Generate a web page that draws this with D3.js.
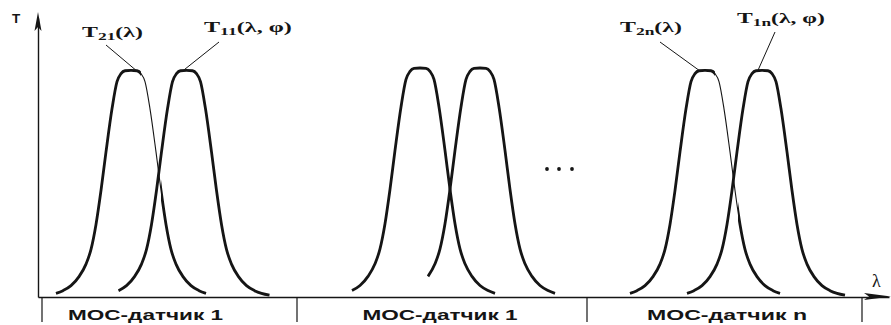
<!DOCTYPE html>
<html>
<head>
<meta charset="utf-8">
<script src="https://cdn.jsdelivr.net/npm/d3@7"></script>
<style>
  html, body { margin: 0; padding: 0; background: #fff; }
  svg { display: block; }
</style>
</head>
<body>
<svg id="chart" width="891" height="325"></svg>
<script>
// peak profile: offset from the peak centre (lambda units) and relative T
const profileOffsets = [-83, -75, -68, -60, -52, -45, -40, -35, -30, -25, -19, -14, -10, -6, 0, 6, 10, 14, 19, 25, 30, 35, 40, 45, 52, 60, 68, 75, 83];
const profileValues  = [0.008, 0.016, 0.028, 0.05, 0.09, 0.145, 0.21, 0.32, 0.47, 0.64, 0.83, 0.95, 0.985, 0.998, 1.0, 0.998, 0.985, 0.95, 0.83, 0.64, 0.47, 0.32, 0.21, 0.145, 0.09, 0.05, 0.028, 0.016, 0.008];

// six transmission curves: T21, T11 | T2, T1 | T2n, T1n
const peakCentres = [93, 148.5, 382, 442, 667, 724];
const peakHeights = [0.99, 0.99, 1.0, 1.0, 0.99, 0.99];
const curveFrom   = [-78, -74, -73, -58, -77, -75];
const curveTo     = [76, 83, 80, 77, 78, 83];
// part of a curve that is drawn with a thin line (start, end), or null
const thinFrom    = [103, null, null, null, 677, null];
const thinTo      = [123, null, null, null, 700, null];

const peakLabels  = [['T', '21', '(λ)'], ['T', '11', '(λ, φ)'], null, null, ['T', '2n', '(λ)'], ['T', '1n', '(λ, φ)']];

const sensorNames   = ['МОС-датчик 1', 'МОС-датчик 1', 'МОС-датчик n'];
const sensorCentres = [107.5, 402, 689];
const sensorBounds  = [4, 259, 549, 824];
const lambdaDomain  = [0, 851];

const svg = d3.select('#chart');
const ink = '#151515';

const x = d3.scaleLinear().domain(lambdaDomain).range([38, 889]);
const y = d3.scaleLinear().domain([0, 1]).range([297, 68]);

// axes: only the domain lines, no ticks
svg.append('g')
    .attr('transform', `translate(0,${y(0)})`)
    .call(d3.axisBottom(x).tickValues([]).tickSizeOuter(0))
    .call(g => g.select('.domain').attr('stroke', ink).attr('stroke-width', 1.4));
svg.append('g')
    .attr('transform', `translate(${x(0)},0)`)
    .call(d3.axisLeft(d3.scaleLinear().domain([0, 1]).range([y(0), 18])).tickValues([]).tickSizeOuter(0))
    .call(g => g.select('.domain').attr('stroke', ink).attr('stroke-width', 1.4));

// arrow heads
svg.append('path')
    .attr('d', `M${x(0)},12 L${x(0) - 3.5},31 L${x(0)},27 L${x(0) + 3.5},31 Z`)
    .attr('fill', ink);
svg.append('path')
    .attr('d', `M891,${y(0) - 0.5} L864,${y(0) - 4} L869,${y(0) - 0.5} L864,${y(0) + 3} Z`)
    .attr('fill', ink);

// sensor table under the axis
svg.append('g')
    .selectAll('line')
    .data(sensorBounds)
    .enter()
    .append('line')
    .attr('x1', d => x(d))
    .attr('x2', d => x(d))
    .attr('y1', y(0))
    .attr('y2', 322)
    .attr('stroke', ink)
    .attr('stroke-width', 1.2);

svg.append('g')
    .selectAll('text')
    .data(sensorNames)
    .enter()
    .append('text')
    .attr('x', (d, i) => x(sensorCentres[i]) - (i === 2 ? 80 : 77.5))
    .attr('y', 320)
    .attr('textLength', (d, i) => i === 2 ? 160 : 155)
    .attr('lengthAdjust', 'spacingAndGlyphs')
    .attr('font-family', 'Liberation Sans, Arial, sans-serif')
    .attr('font-weight', 'bold')
    .attr('font-size', 14)
    .attr('fill', ink)
    .text(d => d);

// curves
const line = d3.line()
    .x(d => x(d[0]))
    .y(d => y(d[1]))
    .curve(d3.curveMonotoneX);

const defs = svg.append('defs');
const curvesG = svg.append('g').attr('fill', 'none').attr('stroke', ink).attr('stroke-linejoin', 'round');

peakCentres.forEach((c, i) => {
    const pts = profileOffsets
        .map((dx, k) => [dx, profileValues[k]])
        .filter(p => p[0] >= curveFrom[i] && p[0] <= curveTo[i])
        .map(p => [c + p[0], p[1] * peakHeights[i]]);

    if (thinFrom[i] !== null) {
        const id = 'thick-' + i;
        const cp = defs.append('clipPath').attr('id', id);
        cp.append('rect').attr('x', 0).attr('y', 0).attr('width', x(thinFrom[i])).attr('height', 325);
        cp.append('rect').attr('x', x(thinTo[i])).attr('y', 0).attr('width', 891 - x(thinTo[i])).attr('height', 325);
        curvesG.append('path').attr('d', line(pts)).attr('stroke-width', 1.1);
        curvesG.append('path').attr('d', line(pts)).attr('stroke-width', 2.8).attr('clip-path', `url(#${id})`);
    } else {
        curvesG.append('path').attr('d', line(pts)).attr('stroke-width', 2.8);
    }
});

// "..." between the second and the last sensor
svg.append('g')
    .selectAll('circle')
    .data([509, 521, 534])
    .enter()
    .append('circle')
    .attr('cx', d => x(d))
    .attr('cy', 169)
    .attr('r', 1.9)
    .attr('fill', ink);

// stretch a text horizontally so it spans [x0, x1]
function fitText(t, x0, x1) {
    const b = t.node().getBBox();
    const k = (x1 - x0) / b.width;
    t.attr('transform', `translate(${x0 - b.x * k},0) scale(${k},1)`);
}

// peak labels with leader lines
const labelBox = {
    0: {x0: 82, x1: 143, base: 37, from: [106, 45], dx: 5},
    1: {x0: 204, x1: 292, base: 32, from: [219, 42], dx: -3},
    4: {x0: 620, x1: 682, base: 32, from: [660, 42], dx: -6},
    5: {x0: 737, x1: 825, base: 23, from: [775, 32], dx: -4}
};
peakLabels.forEach((lab, i) => {
    if (!lab) return;
    const L = labelBox[i];
    const t = svg.append('text')
        .attr('x', 0)
        .attr('y', L.base)
        .attr('font-family', 'Liberation Serif, Times New Roman, serif')
        .attr('font-weight', 'bold')
        .attr('font-size', 15)
        .attr('fill', ink);
    t.append('tspan').text(lab[0]);
    t.append('tspan').attr('font-size', 11).attr('dy', 3).text(lab[1]);
    t.append('tspan').attr('dy', -3).text(lab[2]);
    fitText(t, L.x0, L.x1);

    svg.append('line')
        .attr('x1', L.from[0])
        .attr('y1', L.from[1])
        .attr('x2', x(peakCentres[i] + L.dx))
        .attr('y2', y(peakHeights[i]))
        .attr('stroke', ink)
        .attr('stroke-width', 1);
});

// axis names
const tName = svg.append('text')
    .attr('x', 0).attr('y', 23)
    .attr('font-family', 'Liberation Sans, Arial, sans-serif')
    .attr('font-weight', 'bold')
    .attr('font-size', 12)
    .attr('fill', ink)
    .text('T');
fitText(tName, 12, 21);

svg.append('text')
    .attr('x', 872).attr('y', 287)
    .attr('font-family', 'Liberation Serif, Times New Roman, serif')
    .attr('font-size', 18)
    .attr('fill', ink)
    .text('λ');
</script>
</body>
</html>
